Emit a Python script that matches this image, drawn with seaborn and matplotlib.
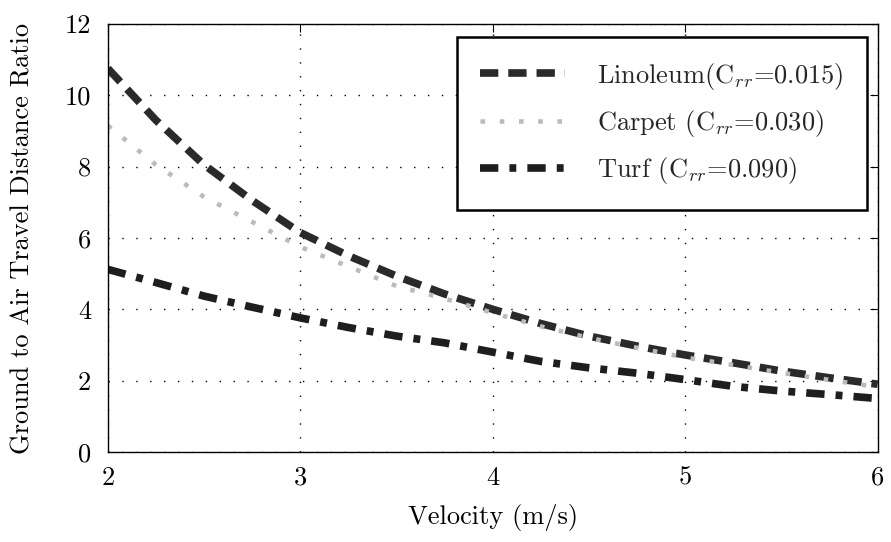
import numpy as np
import pandas as pd
import matplotlib
matplotlib.use("Agg")
import matplotlib.pyplot as plt
import seaborn as sns

velocity = [2.0, 2.25, 2.5, 2.75, 3.0, 3.25, 3.5, 3.75, 4.0, 4.25, 4.5, 4.75, 5.0, 5.25, 5.5, 5.75, 6.0]
linoleum = [10.75, 9.3, 8.05, 7.05, 6.15, 5.5, 4.93, 4.43, 4.0, 3.6, 3.25, 2.97, 2.72, 2.5, 2.27, 2.08, 1.9]
carpet = [9.15, 8.05, 7.15, 6.45, 5.75, 5.2, 4.65, 4.3, 3.9, 3.52, 3.2, 2.92, 2.65, 2.44, 2.22, 2.02, 1.82]
turf = [5.12, 4.75, 4.37, 4.06, 3.76, 3.49, 3.25, 3.06, 2.8, 2.54, 2.36, 2.21, 2.03, 1.84, 1.71, 1.61, 1.5]
labels = ["Linoleum(C$_{rr}$=0.015)", "Carpet (C$_{rr}$=0.030)", "Turf (C$_{rr}$=0.090)"]
xticks = [2, 3, 4, 5, 6]
yticks = [0, 2, 4, 6, 8, 10, 12]

sns.set_theme(style="white")
plt.rcParams["font.family"] = ["cmr10", "DejaVu Serif"]
plt.rcParams["mathtext.fontset"] = "cm"
plt.rcParams["axes.formatter.use_mathtext"] = True

fig = plt.figure(figsize=(8.91, 5.42), dpi=100)
ax = fig.add_axes([0.121, 0.166, 0.864, 0.790])

styles = [
    dict(color="#2a2a2a", lw=5.5, dashes=(2.4, 1.3)),
    dict(color="#bbbbbb", lw=3.3, dashes=(1.0, 3.2)),
    dict(color="#1e1e1e", lw=5.5, dashes=(2.4, 1.45, 0.9, 1.45)),
]
for vals, lab, st in zip([linoleum, carpet, turf], labels, styles):
    df = pd.DataFrame({"v": velocity, "r": vals})
    sns.lineplot(data=df, x="v", y="r", ax=ax, label=lab, color=st["color"],
                 linewidth=st["lw"], dashes=False)
    ax.lines[-1].set_dashes(st["dashes"])
    ax.lines[-1].set_dash_capstyle("butt")

ax.set_xlim(2, 6)
ax.set_ylim(0, 12)
ax.set_xticks(xticks)
ax.set_yticks(yticks)
ax.set_xticklabels([str(t) for t in xticks])
ax.set_yticklabels([str(t) for t in yticks])
ax.tick_params(direction="in", length=6, width=0.8, top=True, right=True,
               labelsize=19, colors="black")
ax.tick_params(axis="y", pad=12)
ax.tick_params(axis="x", pad=10)
ax.grid(True, color="black", linestyle=(0, (1, 9)), linewidth=1.0)
for s in ax.spines.values():
    s.set_color("black")
    s.set_linewidth(1.0)
ax.set_xlabel("Velocity (m/s)", fontsize=19, color="black", labelpad=10)
ax.set_ylabel("Ground to Air Travel Distance Ratio", fontsize=19, color="black", labelpad=22)

leg = ax.legend(loc="upper right", bbox_to_anchor=(0.9857, 0.9696), borderaxespad=0,
                fontsize=19, handlelength=3.2, handletextpad=1.2, labelspacing=0.62,
                borderpad=0.9, fancybox=False, frameon=True)
leg.get_frame().set_edgecolor("black")
leg.get_frame().set_linewidth(1.8)
leg.get_frame().set_alpha(1)

fig.savefig("out.png", dpi=100)
